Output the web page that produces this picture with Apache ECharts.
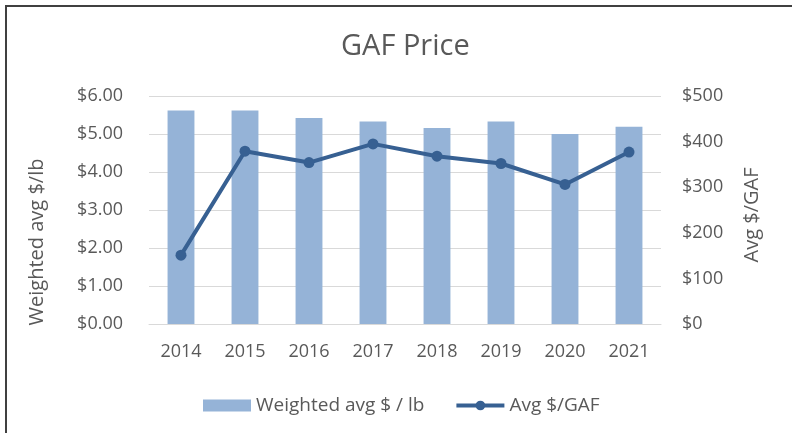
<!DOCTYPE html>
<html>
<head>
<meta charset="utf-8">
<script src="https://cdn.jsdelivr.net/npm/echarts@6/dist/echarts.min.js"></script>
<style>
  html, body { margin: 0; padding: 0; background: #fff; }
  #wrap { position: relative; width: 792px; height: 433px; overflow: hidden; }
  #chart { position: absolute; left: 0; top: 0; width: 792px; height: 433px; }
  #frame { position: absolute; left: 5px; top: 5px; width: 800px; height: 440px; border: 2px solid #404040; box-sizing: border-box; pointer-events: none; }
</style>
</head>
<body>
<div id="wrap">
  <div id="chart"></div>
  <div id="frame"></div>
</div>
<script>
const years = ['2014', '2015', '2016', '2017', '2018', '2019', '2020', '2021'];
const weightedAvgPerLb = [5.62, 5.62, 5.42, 5.33, 5.16, 5.33, 5.00, 5.19];
const avgPerGAF = [151, 379, 354, 395, 368, 352, 306, 377];
const leftTicks = { min: 0, max: 6, interval: 1 };
const rightTicks = { min: 0, max: 500, interval: 100 };

const FONT = '"Open Sans", sans-serif';
const TXT = '#595959';
const LINE = '#376092';

const chart = echarts.init(document.getElementById('chart'), null, { renderer: 'canvas' });
chart.setOption({
  animation: false,
  backgroundColor: '#ffffff',
  title: {
    text: 'GAF Price',
    left: 336,
    top: 27,
    textStyle: { fontFamily: FONT, fontSize: 29, fontWeight: 'normal', color: TXT }
  },
  grid: { left: 149, right: 131, top: 96, bottom: 109, containLabel: false },
  legend: {
    left: 198,
    top: 391,
    itemWidth: 48,
    itemHeight: 12,
    itemGap: 30,
    textStyle: { fontFamily: FONT, fontSize: 19, color: TXT },
    data: [
      { name: 'Weighted avg $ / lb', icon: 'rect' },
      { name: 'Avg $/GAF', lineStyle: { width: 4, color: LINE } }
    ]
  },
  xAxis: {
    type: 'category',
    data: years,
    axisTick: { show: false },
    axisLine: { lineStyle: { color: '#D9D9D9', width: 1 } },
    axisLabel: { fontFamily: FONT, fontSize: 18, color: TXT, margin: 19 }
  },
  yAxis: [
    {
      type: 'value',
      min: leftTicks.min, max: leftTicks.max, interval: leftTicks.interval,
      axisLine: { show: false },
      axisTick: { show: false },
      splitLine: { lineStyle: { color: '#D9D9D9', width: 1 } },
      axisLabel: { fontFamily: FONT, fontSize: 18, color: TXT, margin: 26,
        formatter: v => '$' + v.toFixed(2) }
    },
    {
      type: 'value',
      min: rightTicks.min, max: rightTicks.max, interval: rightTicks.interval,
      axisLine: { show: false },
      axisTick: { show: false },
      splitLine: { show: false },
      axisLabel: { fontFamily: FONT, fontSize: 18, color: TXT, margin: 21,
        formatter: v => '$' + v }
    }
  ],
  graphic: [
    {
      type: 'text', x: 37, y: 242, rotation: Math.PI / 2,
      style: { text: 'Weighted avg $/lb', fontFamily: FONT, fontSize: 20, fill: TXT,
        textAlign: 'center', textVerticalAlign: 'middle' }
    },
    {
      type: 'text', x: 752, y: 215, rotation: Math.PI / 2,
      style: { text: 'Avg $/GAF', fontFamily: FONT, fontSize: 20, fill: TXT,
        textAlign: 'center', textVerticalAlign: 'middle' }
    }
  ],
  series: [
    {
      name: 'Weighted avg $ / lb',
      type: 'bar',
      yAxisIndex: 0,
      data: weightedAvgPerLb,
      barWidth: '42%',
      itemStyle: { color: '#95B3D7' }
    },
    {
      name: 'Avg $/GAF',
      type: 'line',
      yAxisIndex: 1,
      data: avgPerGAF,
      symbol: 'circle',
      symbolSize: 11,
      lineStyle: { color: LINE, width: 4 },
      itemStyle: { color: LINE }
    }
  ]
});
</script>
</body>
</html>
